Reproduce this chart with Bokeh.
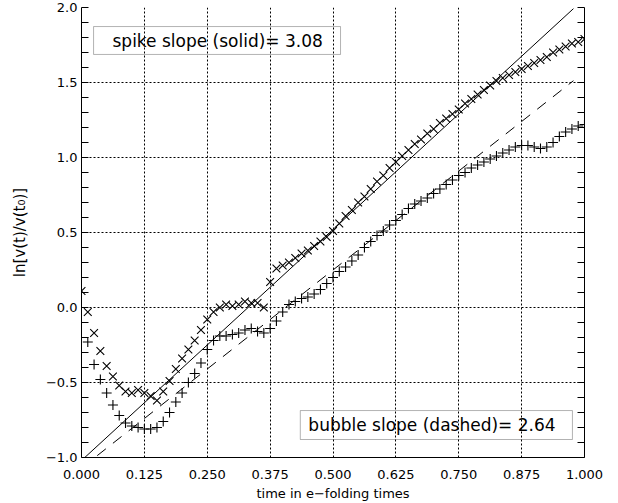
from bokeh.plotting import figure
from bokeh.models import (Range1d, LinearAxis, FixedTicker, SingleIntervalTicker,
                          CustomJSTickFormatter, BoxAnnotation, Label, ColumnDataSource)
from bokeh.embed import file_html
from bokeh.resources import INLINE

# ---------------- data ----------------
time = [0.0, 0.0125, 0.025, 0.0375, 0.05, 0.0625, 0.075, 0.0875, 0.1, 0.1125,
        0.125, 0.1375, 0.15, 0.1625, 0.175, 0.1875, 0.2, 0.2125, 0.225, 0.2375,
        0.25, 0.2625, 0.275, 0.2875, 0.3, 0.3125, 0.325, 0.3375, 0.35, 0.3625,
        0.375, 0.3875, 0.4, 0.4125, 0.425, 0.4375, 0.45, 0.4625, 0.475, 0.4875,
        0.5, 0.5125, 0.525, 0.5375, 0.55, 0.5625, 0.575, 0.5875, 0.6, 0.6125,
        0.625, 0.6375, 0.65, 0.6625, 0.675, 0.6875, 0.7, 0.7125, 0.725, 0.7375,
        0.75, 0.7625, 0.775, 0.7875, 0.8, 0.8125, 0.825, 0.8375, 0.85, 0.8625,
        0.875, 0.8875, 0.9, 0.9125, 0.925, 0.9375, 0.95, 0.9625, 0.975, 0.9875, 1.0]

spike = [0.11, -0.03, -0.17, -0.29, -0.39, -0.46, -0.52, -0.56, -0.57, -0.55,
         -0.57, -0.59, -0.62, -0.56, -0.49, -0.41, -0.34, -0.28, -0.22, -0.15,
         -0.08, -0.03, 0.00, 0.02, 0.01, 0.02, 0.04, 0.03, 0.03, 0.00,
         0.17, 0.26, 0.28, 0.30, 0.33, 0.36, 0.38, 0.41, 0.44, 0.47,
         0.51, 0.56, 0.61, 0.65, 0.70, 0.74, 0.79, 0.84, 0.88, 0.93,
         0.97, 1.01, 1.05, 1.09, 1.12, 1.16, 1.19, 1.23, 1.26, 1.29,
         1.32, 1.36, 1.39, 1.42, 1.45, 1.48, 1.51, 1.53, 1.55, 1.57,
         1.59, 1.61, 1.63, 1.65, 1.67, 1.70, 1.72, 1.74, 1.76, 1.77, 1.79]

bubble_time = time[1:]
bubble = [-0.23, -0.38, -0.48, -0.57, -0.65, -0.72, -0.77, -0.79, -0.80, -0.81,
          -0.81, -0.80, -0.76, -0.70, -0.63, -0.57, -0.50, -0.44, -0.37, -0.28,
          -0.22, -0.19, -0.19, -0.18, -0.17, -0.15, -0.14, -0.16, -0.17, -0.14,
          -0.09, -0.03, 0.02, 0.04, 0.06, 0.07, 0.09, 0.12, 0.16, 0.20,
          0.24, 0.27, 0.31, 0.35, 0.40, 0.44, 0.48, 0.51, 0.55, 0.58,
          0.62, 0.66, 0.69, 0.71, 0.73, 0.76, 0.79, 0.82, 0.85, 0.88,
          0.90, 0.93, 0.95, 0.97, 0.99, 1.01, 1.03, 1.05, 1.07, 1.08,
          1.08, 1.07, 1.06, 1.07, 1.10, 1.14, 1.17, 1.19, 1.21, 1.22]

spike_slope = 3.08
spike_intercept = -1.02
bubble_slope = 2.64
bubble_intercept = -1.07
fit_t = [0.0, 0.978]

x_ticks = [0.0, 0.125, 0.25, 0.375, 0.5, 0.625, 0.75, 0.875, 1.0]

# ---------------- figure ----------------
FONT = "DejaVu Sans"

p = figure(width=618, height=503, output_backend="svg", toolbar_location=None,
           x_range=Range1d(0, 1), y_range=Range1d(-1, 2),
           min_border_left=81, min_border_right=34, min_border_top=7, min_border_bottom=46)
p.outline_line_color = None
p.background_fill_color = "white"
p.border_fill_color = "white"

# axes
xt = FixedTicker(ticks=x_ticks)
yt = SingleIntervalTicker(interval=0.5, num_minor_ticks=5)
fmt_y = CustomJSTickFormatter(code="return (tick < 0 ? '\\u2212' : '') + Math.abs(tick).toFixed(1);")
fmt_x = CustomJSTickFormatter(code="return tick.toFixed(3);")

xa = p.xaxis[0]
xa.ticker = xt
xa.formatter = fmt_x
xa.axis_label = "time in e\u2212folding times"
ya = p.yaxis[0]
ya.ticker = yt
ya.formatter = fmt_y
ya.axis_label = "ln[v(t)/v(t\u2080)]"

for ax in (xa, ya):
    ax.axis_line_color = "black"
    ax.axis_line_width = 1
    ax.major_tick_in = 0
    ax.major_tick_out = 0
    ax.minor_tick_in = 7
    ax.minor_tick_out = 0
    ax.major_label_text_font = FONT
    ax.major_label_text_font_size = "13px"
    ax.major_label_text_color = "black"
    ax.axis_label_text_font = FONT
    ax.axis_label_text_font_size = "13px"
    ax.axis_label_text_font_style = "normal"
    ax.axis_label_text_color = "black"
xa.minor_tick_in = 0
xa.major_label_standoff = 12
xa.axis_label_standoff = 4
ya.major_label_standoff = 4
ya.axis_label_standoff = 14
ya.axis_label_text_font_size = "15px"

ra = LinearAxis(ticker=yt, formatter=CustomJSTickFormatter(code="return '';"),
                major_label_text_font_size="13px", major_label_standoff=0,
                major_tick_in=0, major_tick_out=0, minor_tick_in=7, minor_tick_out=0,
                axis_line_color="black")
p.add_layout(ra, "right")

# grids (dotted)
p.xgrid.ticker = xt
p.ygrid.ticker = yt
for g in (p.xgrid[0], p.ygrid[0]):
    g.grid_line_color = "black"
    g.grid_line_dash = "2 2"
    g.grid_line_width = 1

# fitted lines
p.line(fit_t, [spike_slope * t + spike_intercept for t in fit_t],
       line_color="black", line_width=1)
p.line(fit_t, [bubble_slope * t + bubble_intercept for t in fit_t],
       line_color="black", line_width=1, line_dash="11 9")

# data
src_s = ColumnDataSource(dict(t=time, v=spike))
src_b = ColumnDataSource(dict(t=bubble_time, v=bubble))
p.scatter("t", "v", source=src_s, marker="x", size=11, line_color="black", line_width=1.1)
p.scatter("t", "v", source=src_b, marker="cross", size=10, line_color="black", line_width=1.1)

# annotation boxes
p.add_layout(BoxAnnotation(left=0.024, right=0.515, top=1.873, bottom=1.687,
                           fill_color=None, fill_alpha=0, line_color="black", line_width=1))
p.add_layout(Label(x=0.0616, y=1.78, text="spike slope (solid)= %.2f" % spike_slope,
                   text_font=FONT, text_font_size="17px", text_baseline="middle",
                   text_color="black"))
p.add_layout(BoxAnnotation(left=0.435, right=0.976, top=-0.687, bottom=-0.88,
                           fill_color=None, fill_alpha=0, line_color="black", line_width=1))
p.add_layout(Label(x=0.451, y=-0.783, text="bubble slope (dashed)= %.2f" % bubble_slope,
                   text_font=FONT, text_font_size="17px", text_baseline="middle",
                   text_color="black"))

open("out.html", "w").write(file_html(p, INLINE))
